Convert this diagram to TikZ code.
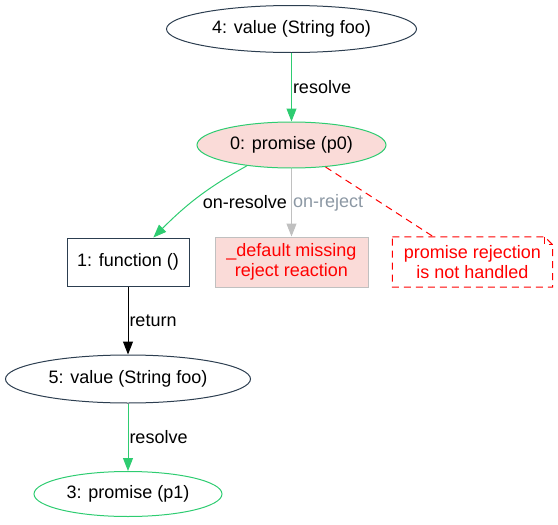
\documentclass[tikz,border=0pt]{standalone}
\usepackage{fontspec}
\setmainfont{Liberation Sans}
\usetikzlibrary{shapes.geometric, arrows.meta}

\definecolor{grn}{HTML}{2ECC71}
\definecolor{ink}{HTML}{2C3E50}
\definecolor{blush}{HTML}{FADBD8}
\definecolor{silver}{HTML}{C0C0C0}
\definecolor{slate}{HTML}{8C98A4}

\begin{document}
\begin{tikzpicture}[x=1pt, y=-1pt,
		every node/.style={font=\fontsize{18}{20}\selectfont},
		value/.style={ellipse, draw=ink, line width=1pt, inner sep=0pt},
		promise/.style={ellipse, draw=grn, line width=1pt, inner sep=0pt},
		fn/.style={rectangle, draw=ink, line width=1pt, minimum width=122pt, minimum height=48pt},
		reaction/.style={rectangle, draw=silver, fill=blush, text=red, align=center, line width=1pt, minimum width=153pt, minimum height=50pt},
		lbl/.style={right, inner sep=1pt},
		warn/.style={red, line width=1pt, dash pattern=on 7pt off 5pt},
		flow/.style={line width=1pt, -{Triangle[length=13pt, width=10pt]}}]
		\useasboundingbox (0, 0) rectangle (558, 525);

		% nodes
		\node[value, minimum width=250pt, minimum height=47pt] (n4) at (291.5, 29) {4: value (String foo)};
		\node[promise, fill=blush, minimum width=189pt, minimum height=46pt] (n0) at (291.5, 145) {0: promise (p0)};
		\node[fn] (n1) at (128, 262) {1: function ()};
		\node[reaction] (dflt) at (291.5, 262) {\_default missing\\reject reaction};
		\node[text=red, align=center, minimum width=160pt, minimum height=50pt] (note) at (472.5, 262) {promise rejection\\is not handled};
		\node[value, minimum width=245pt, minimum height=48pt] (n5) at (128, 379) {5: value (String foo)};
		\node[promise, minimum width=188pt, minimum height=45pt] (n3) at (128, 494) {3: promise (p1)};

		% note outline with folded corner
		\draw[warn] (note.north west) -- ([xshift=-8pt]note.north east) -- ([yshift=-8pt]note.north east) -- (note.south east) -- (note.south west) -- cycle;
		\draw[warn] ([xshift=-8pt]note.north east) -- ([xshift=-8pt, yshift=-8pt]note.north east) -- ([yshift=-8pt]note.north east);

		% edges
		\draw[flow, grn] (n4) -- node[lbl, text=black] {resolve} (n0);
		\draw[flow, grn] (n0.-155) to[out=-151, in=45] node[lbl, text=black, pos=0.57, xshift=10pt] {on-resolve} (n1.44);
		\draw[flow, silver] (n0) -- node[lbl, text=slate] {on-reject} (dflt);
		\draw[warn] (n0) -- (note);
		\draw[flow, black] (n1) -- node[lbl] {return} (n5);
		\draw[flow, grn] (n5) -- node[lbl, text=black] {resolve} (n3);
\end{tikzpicture}
\end{document}
